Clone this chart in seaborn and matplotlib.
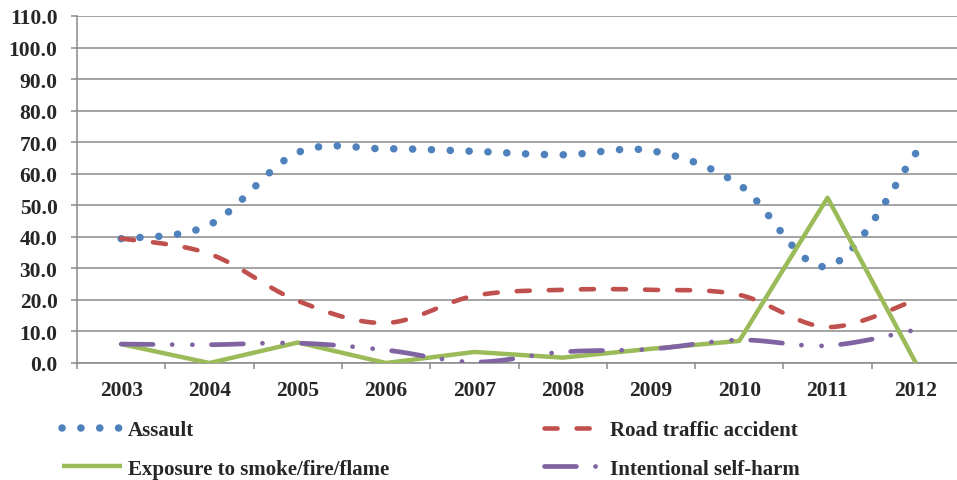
import numpy as np
import pandas as pd
import matplotlib
matplotlib.use("Agg")
import matplotlib.pyplot as plt
from matplotlib.ticker import FixedLocator, FormatStrFormatter
import seaborn as sns

# ─── Data ────────────────────────────────────────────────────────────────────
years = ["2003", "2004", "2005", "2006", "2007", "2008", "2009", "2010", "2011", "2012"]
assault = [39.4, 43.8, 66.7, 67.9, 67.1, 66.0, 67.3, 56.5, 30.6, 66.5]
road = [39.5, 34.6, 19.7, 12.7, 21.3, 23.2, 23.2, 21.6, 11.4, 20.0]
smoke = [6.0, 0.0, 6.5, 0.0, 3.5, 1.7, 4.5, 7.0, 52.4, 0.0]
selfharm = [6.0, 5.8, 6.3, 4.1, 0.3, 3.5, 4.4, 7.3, 5.5, 10.5]

BLUE = "#4F81BD"
RED = "#C0504D"
GREEN = "#9BBB59"
PURPLE = "#8064A2"
GRID = "#8a8a8a"


def smooth(xs, ys, n=40):
    """Excel-like smoothed line (Catmull-Rom through the points)."""
    p = np.column_stack([xs, ys]).astype(float)
    p = np.vstack([p[0], p, p[-1]])
    t = np.linspace(0, 1, n, endpoint=False)
    out = []
    for i in range(1, len(p) - 2):
        p0, p1, p2, p3 = p[i - 1], p[i], p[i + 1], p[i + 2]
        c1 = p1 + (p2 - p0) / 6
        c2 = p2 - (p3 - p1) / 6
        tt = t[:, None]
        seg = ((1 - tt) ** 3 * p1 + 3 * (1 - tt) ** 2 * tt * c1
               + 3 * (1 - tt) * tt ** 2 * c2 + tt ** 3 * p2)
        out.append(seg)
    out.append(p[-2][None, :])
    out = np.vstack(out)
    return out[:, 0], out[:, 1]


sns.set_theme(style="white")
plt.rcParams["font.family"] = ["Liberation Serif", "DejaVu Serif"]
plt.rcParams["font.weight"] = "bold"
plt.rcParams["lines.scale_dashes"] = False
plt.rcParams["path.simplify"] = False

fig = plt.figure(figsize=(9.57, 4.81), dpi=100)
ax = fig.add_axes([77 / 957, 117 / 481, 883 / 957, 347 / 481])

x = np.arange(len(years))
ax.set_xlim(-0.5, len(years) - 0.5)
ax.set_ylim(0, 110)


def dot_period(xs, ys, target):
    # fit a whole number of dots along the curve so both ends get one
    pts = ax.transData.transform(np.column_stack([xs, ys])) * 72 / fig.dpi
    length = np.sum(np.hypot(*np.diff(pts, axis=0).T))
    return length / (max(1, round(length / target)) + 0.03)


series = [
    ("Assault", assault, BLUE, 5.4, "dots", True),
    ("Road traffic accident", road, RED, 3.3, (0, (9.4, 13.7)), True),
    ("Exposure to smoke/fire/flame", smoke, GREEN, 3.2, "-", False),
    ("Intentional self-harm", selfharm, PURPLE, 3.4,
     (0, (23, 13.7, 0.1, 14.4, 0.1, 13.7)), True),
]

for i, (name, vals, color, lw, ls, is_smooth) in enumerate(series):
    if is_smooth:
        xs, ys = smooth(x, vals)
    else:
        xs, ys = x, np.array(vals)
    if ls == "dots":
        ls = (0, (0.1, dot_period(xs, ys, 13.6) - 0.1))
    sns.lineplot(x=xs, y=ys, ax=ax, color=color, linewidth=lw, linestyle=ls,
                 label=name, sort=False, estimator=None, zorder=3 + i,
                 dash_capstyle="round", solid_capstyle="butt")

ax.set_xlim(-0.5, len(years) - 0.5)
ax.set_ylim(0, 110)
ax.set_xticks(x)
ax.set_xticklabels(years)
ax.xaxis.set_minor_locator(FixedLocator(np.arange(-0.5, len(years), 1.0)))
ax.set_yticks(np.arange(0, 111, 10))
ax.yaxis.set_major_formatter(FormatStrFormatter("%.1f"))

ax.grid(axis="y", color=GRID, linewidth=1.1)
ax.set_axisbelow(True)
for side in ["top", "right"]:
    ax.spines[side].set_visible(False)
for side in ["left", "bottom"]:
    ax.spines[side].set_color(GRID)
    ax.spines[side].set_linewidth(1.1)

ax.tick_params(axis="x", which="major", length=0, pad=12, labelsize=15.5)
ax.tick_params(axis="x", which="minor", length=4, width=1.1, color=GRID,
               direction="out", bottom=True)
ax.tick_params(axis="y", length=4, width=1.1, color=GRID, direction="out",
               left=True, pad=10, labelsize=15.5)
for lab in ax.get_xticklabels() + ax.get_yticklabels():
    lab.set_fontweight("bold")
ax.set_xlabel("")
ax.set_ylabel("")

handles, labels = ax.get_legend_handles_labels()
ax.get_legend().remove()
order = [0, 2, 1, 3]
fig.legend([handles[i] for i in order], [labels[i] for i in order],
           loc="upper left", bbox_to_anchor=(62 / 957, 1 - 421 / 481),
           ncol=2, frameon=False, borderpad=0, borderaxespad=0,
           handlelength=2.9, handletextpad=0.25, columnspacing=7.45,
           labelspacing=0.9, prop={"family": "Liberation Serif",
                                   "weight": "bold", "size": 15})

fig.savefig("out.png", dpi=100)
